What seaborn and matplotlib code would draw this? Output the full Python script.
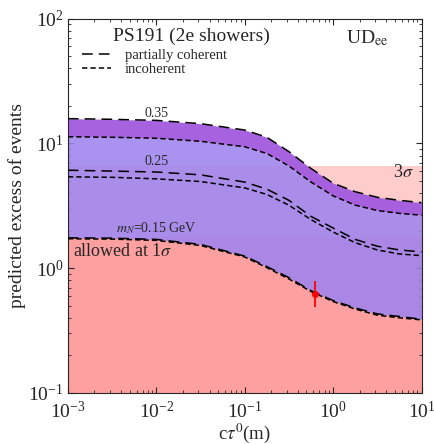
import seaborn as sns
import matplotlib.pyplot as plt
import pandas as pd

# c tau (m) sample points
ctau = [0.001, 0.00316, 0.01, 0.0316, 0.1, 0.178, 0.316, 0.562, 1.0, 1.78, 3.16, 5.62, 10.0]

# predicted excess of events, per mass, partially coherent / incoherent
m035_pc = [15.8, 15.6, 15.3, 14.4, 12.8, 11.2, 8.6, 6.3, 4.8, 4.1, 3.7, 3.5, 3.35]
m035_inc = [11.3, 11.2, 11.0, 10.4, 9.4, 8.3, 6.6, 4.9, 3.8, 3.2, 2.9, 2.75, 2.66]
m025_pc = [6.1, 6.0, 5.9, 5.6, 4.9, 4.3, 3.5, 2.6, 2.1, 1.7, 1.5, 1.4, 1.35]
m025_inc = [5.4, 5.35, 5.2, 4.95, 4.4, 3.9, 3.2, 2.45, 1.95, 1.6, 1.4, 1.3, 1.26]
m015_pc = [1.75, 1.74, 1.70, 1.55, 1.25, 1.03, 0.84, 0.66, 0.55, 0.48, 0.43, 0.41, 0.39]
m015_inc = [1.72, 1.71, 1.67, 1.52, 1.23, 1.01, 0.82, 0.65, 0.54, 0.47, 0.42, 0.40, 0.385]

# observed excess (1 sigma, 3 sigma limits) and data point
sigma1 = 1.78
sigma3 = 6.56
point_x = [0.63]
point_y = [0.62]
point_lo = [0.13]
point_hi = [0.17]

sns.set_style("ticks")
plt.rcParams['font.family'] = ['Liberation Serif', 'DejaVu Serif']
plt.rcParams['mathtext.fontset'] = 'stix'

fig = plt.figure(figsize=(4.35, 4.44), dpi=100)
ax = fig.add_axes([0.156, 0.115, 0.813, 0.843])

ax.set_xscale('log')
ax.set_yscale('log')
ax.set_xlim(1e-3, 10)
ax.set_ylim(0.1, 100)

# allowed bands
ax.axhspan(0.1, sigma3, color='#ffcccc', lw=0, zorder=0)
ax.axhspan(0.1, sigma1, color='#ffa0a0', lw=0, zorder=0)

# predicted region
ax.fill_between(ctau, m015_pc, m035_inc, color='#9f84ee', alpha=0.88, lw=0, zorder=1)
ax.fill_between(ctau, m035_inc, m035_pc, color='#a25ade', alpha=0.95, lw=0, zorder=1)

df = pd.DataFrame({'ctau': ctau * 6,
                   'events': m035_pc + m035_inc + m025_pc + m025_inc + m015_pc + m015_inc,
                   'curve': sum([[c] * len(ctau) for c in ['035pc', '035inc', '025pc', '025inc', '015pc', '015inc']], [])})
for name in df['curve'].unique():
    sub = df[df['curve'] == name]
    ls = (0, (7, 4)) if name.endswith('pc') else (0, (3.5, 2))
    sns.lineplot(data=sub, x='ctau', y='events', ax=ax, color='black', lw=1.1,
                 linestyle=ls, zorder=3, legend=False)

ax.errorbar(point_x, point_y, yerr=[point_lo, point_hi], fmt='o', color='red',
            ms=4, elinewidth=1.3, capsize=0, zorder=4)

# legend
ax.plot([], [], color='black', lw=1.1, linestyle=(0, (7, 4)), label='partially coherent')
ax.plot([], [], color='black', lw=1.1, linestyle=(0, (3.5, 2)), label='incoherent')
ax.legend(loc='upper left', bbox_to_anchor=(0.02, 0.94), frameon=False, fontsize=10.5,
          handlelength=2.0, labelspacing=0.1, borderpad=0.0, handletextpad=0.9)

ax.text(0.35, 0.975, 'PS191 (2e showers)', transform=ax.transAxes, ha='center', va='top', fontsize=14)
ax.text(0.847, 0.975, r'UD$_{\rm ee}$', transform=ax.transAxes, ha='center', va='top', fontsize=14)
ax.text(0.01, 17.5, '0.35', ha='center', va='center', fontsize=10, zorder=5)
ax.text(0.01, 7.1, '0.25', ha='center', va='center', fontsize=10, zorder=5)
ax.text(0.01, 2.09, r'$m_N$=0.15 GeV', ha='center', va='center', fontsize=10, zorder=5)
ax.text(0.00115, 1.37, r'allowed at 1$\sigma$', ha='left', va='center', fontsize=13, zorder=5)
ax.text(8.1, 5.8, r'3$\sigma$', ha='right', va='center', fontsize=13, zorder=5)

ax.set_xlabel(r'c$\tau^0$(m)', fontsize=13.5, labelpad=-1)
ax.set_ylabel('predicted excess of events', fontsize=14, labelpad=2)
ax.tick_params(which='both', direction='in', top=True, right=True, labelsize=14)
ax.tick_params(axis='x', which='major', pad=6)
ax.tick_params(axis='y', which='major', pad=3)
ax.tick_params(which='major', length=4)
ax.tick_params(which='minor', length=2)

plt.savefig('out.png', dpi=100)
